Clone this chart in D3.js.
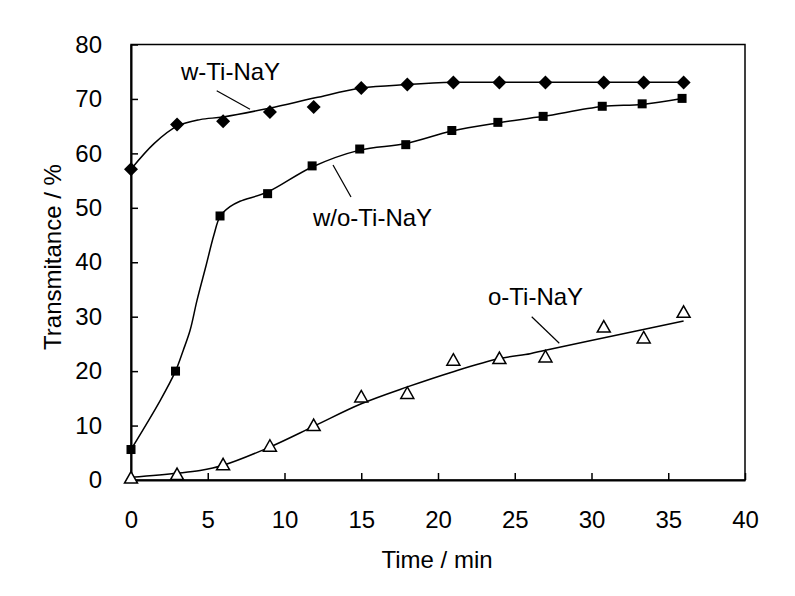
<!DOCTYPE html>
<html><head><meta charset="utf-8">
<script src="https://cdn.jsdelivr.net/npm/d3@7"></script>
<style>body{margin:0;background:#fff}text{font-family:Arial,"Liberation Sans",sans-serif;}</style>
</head><body><svg id="c" width="795" height="596"></svg>
<script>
// Data
const xTicks = [0,5,10,15,20,25,30,35,40];
const yTicks = [0,10,20,30,40,50,60,70,80];

const wTime = [0,3,6,9.05,11.9,15,18,21,24,27,30.8,33.4,36];
const wVal  = [57.1,65.3,65.9,67.6,68.5,72.0,72.65,73.0,73.0,73.0,73.0,73.0,73.0];
const wFitTime = [0,1.5,3,4.5,6,9,12,15,18,21,24,27,30.8,33.4,36];
const wFitVal  = [57.1,61.8,65.0,66.2,66.7,68.3,70.2,72.0,72.65,73.05,73.05,73.05,73.05,73.05,73.05];

const woTime = [0,2.9,5.8,8.9,11.8,14.9,17.9,20.9,23.9,26.85,30.7,33.3,35.9];
const woVal  = [5.6,20.0,48.5,52.6,57.7,60.8,61.6,64.2,65.7,66.8,68.65,69.1,70.1];
const woFitTime = [0,1.9,2.9,3.4,3.85,4.3,4.9,5.4,5.8,6.45,7.1,8.9,11.8,14.9,17.9,20.9,23.9,26.85,30.7,33.3,35.9];
const woFitVal  = [5.6,14.6,20.0,23.8,27.5,33.0,39.5,45.0,48.4,50.2,51.2,52.9,57.5,60.6,61.8,64.1,65.6,66.8,68.6,69.0,70.1];

const oTime = [0,3,6,9.05,11.9,15,18,21,24,27,30.8,33.4,36];
const oVal  = [0.35,1.0,2.8,6.2,10.0,15.25,15.9,22.0,22.3,22.6,28.1,26.1,30.8];
const oFitTime = [0,3,4.5,6,9,12,15,18,21,24,26,27,31.6,36];
const oFitVal  = [0.5,1.25,1.75,2.7,6.0,10.0,14.0,17.1,19.9,22.3,23.2,23.85,26.6,29.2];

const svg = d3.select("#c");
const x = d3.scaleLinear().domain([0,40]).range([131,745]);
const y = d3.scaleLinear().domain([0,80]).range([480,44.5]);

// frame
svg.append("rect").attr("x",x(0)).attr("y",y(80)).attr("width",x(40)-x(0)).attr("height",y(0)-y(80))
  .attr("fill","none").attr("stroke","#000").attr("stroke-width",1.5);

const xAxis = svg.append("g").attr("transform",`translate(0,${y(0)})`)
  .call(d3.axisBottom(x).tickValues(xTicks).tickSizeInner(-7).tickSizeOuter(0).tickPadding(31));
const yAxis = svg.append("g").attr("transform",`translate(${x(0)},0)`)
  .call(d3.axisLeft(y).tickValues(yTicks).tickSizeInner(-7).tickSizeOuter(0).tickPadding(29));
[xAxis,yAxis].forEach(g=>{
  g.select(".domain").attr("stroke-width",2);
  g.selectAll(".tick line").attr("stroke-width",1.5);
  g.selectAll("text").attr("font-size",24).attr("font-family","Arial, 'Liberation Sans', sans-serif").attr("fill","#000");
});
xAxis.selectAll(".tick text").attr("dy","0.71em");

svg.append("text").attr("x",437).attr("y",568).attr("text-anchor","middle").attr("font-size",24).text("Time / min");
svg.append("text").attr("transform","translate(61,257) rotate(-90)").attr("text-anchor","middle").attr("font-size",24).text("Transmitance / %");

const line = d3.line().x(d=>x(d[0])).y(d=>y(d[1])).curve(d3.curveCatmullRom.alpha(0.5));
function fit(t,v){
  svg.append("path").datum(t.map((d,i)=>[d,v[i]])).attr("d",line).attr("fill","none").attr("stroke","#000").attr("stroke-width",1.5);
}
fit(wFitTime,wFitVal); fit(woFitTime,woFitVal); fit(oFitTime,oFitVal);

// markers
svg.append("g").selectAll("path").data(wTime.map((d,i)=>[d,wVal[i]])).join("path")
  .attr("transform",d=>`translate(${x(d[0])},${y(d[1])})`)
  .attr("d","M0,-7L7,0L0,7L-7,0Z").attr("fill","#000");
svg.append("g").selectAll("rect").data(woTime.map((d,i)=>[d,woVal[i]])).join("rect")
  .attr("x",d=>x(d[0])-4.5).attr("y",d=>y(d[1])-4.5).attr("width",9).attr("height",9).attr("fill","#000");
svg.append("g").selectAll("path").data(oTime.map((d,i)=>[d,oVal[i]])).join("path")
  .attr("transform",d=>`translate(${x(d[0])},${y(d[1])})`)
  .attr("d","M0,-6.5L6.5,5L-6.5,5Z").attr("fill","#fff").attr("stroke","#000").attr("stroke-width",1.5);

// labels with leaders
const labels = [
  {t:"w-Ti-NaY", x:181, y:80, l:[216.7,90.7,250,109.3]},
  {t:"w/o-Ti-NaY", x:313, y:226, l:[333,165,351,197]},
  {t:"o-Ti-NaY", x:488, y:305, l:[531.7,316.7,559.3,343.3]}
];
labels.forEach(d=>{
  svg.append("text").attr("x",d.x).attr("y",d.y).attr("font-size",24).text(d.t);
  svg.append("line").attr("x1",d.l[0]).attr("y1",d.l[1]).attr("x2",d.l[2]).attr("y2",d.l[3]).attr("stroke","#000").attr("stroke-width",1.2);
});
</script></body></html>
